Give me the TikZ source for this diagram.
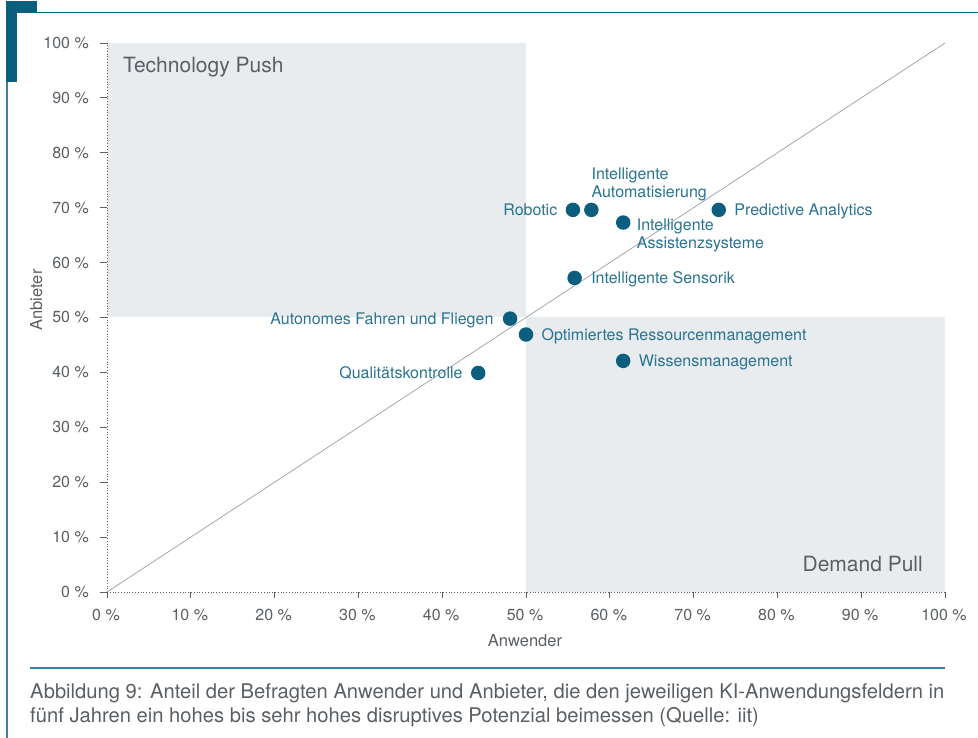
\documentclass[tikz,border=0pt]{standalone}
\usepackage{fontspec}
\setmainfont{TeX Gyre Heros}
\definecolor{tealdark}{RGB}{11,94,125}
\definecolor{teallbl}{RGB}{40,115,145}
\definecolor{tealline}{RGB}{60,130,160}
\definecolor{graybg}{RGB}{232,236,239}
\definecolor{txtgray}{RGB}{90,95,100}
\definecolor{diaggray}{RGB}{160,168,176}
\tikzset{
  dot/.style={circle, fill=tealdark, minimum size=14.5pt, inner sep=0pt},
  lbl/.style={text=teallbl, font=\fontsize{16}{18}\selectfont, inner sep=0pt, align=left},
  ticklbl/.style={text=txtgray, font=\fontsize{16}{18}\selectfont, inner sep=0pt},
  axlbl/.style={text=txtgray, font=\fontsize{16.5}{18}\selectfont, inner sep=0pt},
  tickmark/.style={draw=txtgray, line width=0.8pt},
  axisdot/.style={draw=txtgray, dotted, line width=0.8pt},
  quadlbl/.style={text=txtgray, font=\fontsize{21}{24}\selectfont, inner sep=0pt},
  captxt/.style={text=txtgray, font=\fontsize{20.2}{24}\selectfont, inner sep=0pt},
}
\begin{document}
\begin{tikzpicture}[x=1pt,y=-1pt]
\useasboundingbox (0,0) rectangle (978,738);
% frame
\fill[tealdark] (6,1) rectangle (37,13);
\fill[tealdark] (6,1) rectangle (16.5,82);
\draw[tealline, line width=1.5pt] (7,82) -- (7,738);
\draw[tealdark, line width=1.8pt] (37,12.5) -- (978,12.5);
% plot
\begin{scope}[shift={(107,592)}, x=8.38pt, y=5.49pt]
  \fill[graybg] (0,50) rectangle (50,100);
  \fill[graybg] (50,0) rectangle (100,50);
  \coordinate (o) at (0,0);
  \coordinate (xe) at (100,0);
  \coordinate (ye) at (0,100);
  \coordinate (de) at (100,100);
  \draw[axisdot] (o) -- (ye);
  \draw[axisdot] (o) -- (xe);
  \draw[diaggray, line width=0.8pt] (o) -- (de);
  \foreach \k in {0,10,...,100} {
    \draw[tickmark] (0,\k) -- ++(-7pt,0);
    \draw[tickmark] (\k,0) -- ++(0,-6pt);
    \node[ticklbl, anchor=base east] at ([shift={(-18pt,-5.5pt)}]0,\k) {\k\ \%};
    \node[ticklbl, anchor=base] at ([shift={(-1pt,-28.5pt)}]\k,0) {\k\ \%};
  }
  % points
  \node[dot] (rob) at (55.6,69.6) {};
  \node[dot] (aut) at (57.8,69.6) {};
  \node[dot] (ass) at (61.6,67.3) {};
  \node[dot] (pre) at (73.0,69.6) {};
  \node[dot] (sen) at (55.8,57.2) {};
  \node[dot] (afl) at (48.1,49.8) {};
  \node[dot] (opt) at (50.0,46.9) {};
  \node[dot] (wis) at (61.6,42.1) {};
  \node[dot] (qua) at (44.3,39.9) {};
\end{scope}
% labels
\node[lbl, anchor=base east] (lrob) at ([shift={(-8pt,-5.5pt)}]rob.west) {Robotic};
\node[lbl, anchor=south west] (laut) at ([shift={(0pt,1pt)}]aut.north) {Intelligente\\Automatisierung};
\node[lbl, anchor=north west] (lass) at ([shift={(6pt,4pt)}]ass.east) {Intelligente\\Assistenzsysteme};
\node[lbl, anchor=base west] (lpre) at ([shift={(8pt,-5.5pt)}]pre.east) {Predictive Analytics};
\node[lbl, anchor=base west] (lsen) at ([shift={(9pt,-5.5pt)}]sen.east) {Intelligente Sensorik};
\node[lbl, anchor=base east] (lafl) at ([shift={(-9pt,-5.5pt)}]afl.west) {Autonomes Fahren und Fliegen};
\node[lbl, anchor=base west] (lopt) at ([shift={(8pt,-5.5pt)}]opt.east) {Optimiertes Ressourcenmanagement};
\node[lbl, anchor=base west] (lwis) at ([shift={(8pt,-5.5pt)}]wis.east) {Wissensmanagement};
\node[lbl, anchor=base east] (lqua) at ([shift={(-8pt,-5.5pt)}]qua.west) {Qualitätskontrolle};
% quadrant labels
\node[quadlbl, anchor=base west] (tp) at (123,72.5) {Technology Push};
\node[quadlbl, anchor=base east] (dp) at (923,571.5) {Demand Pull};
% axis titles
\node[axlbl, anchor=base] (xt) at (525,646) {Anwender};
\node[axlbl, rotate=90, anchor=base] (yt) at (42,300) {Anbieter};
% caption
\draw[tealline, line width=1.3pt] (30,668) -- (945,668);
\node[captxt, anchor=base west] (c1) at (30,698) {Abbildung 9: Anteil der Befragten Anwender und Anbieter, die den jeweiligen KI-Anwendungsfeldern in};
\node[captxt, anchor=base west] (c2) at (30,722) {fünf Jahren ein hohes bis sehr hohes disruptives Potenzial beimessen (Quelle: iit)};
\end{tikzpicture}
\end{document}
